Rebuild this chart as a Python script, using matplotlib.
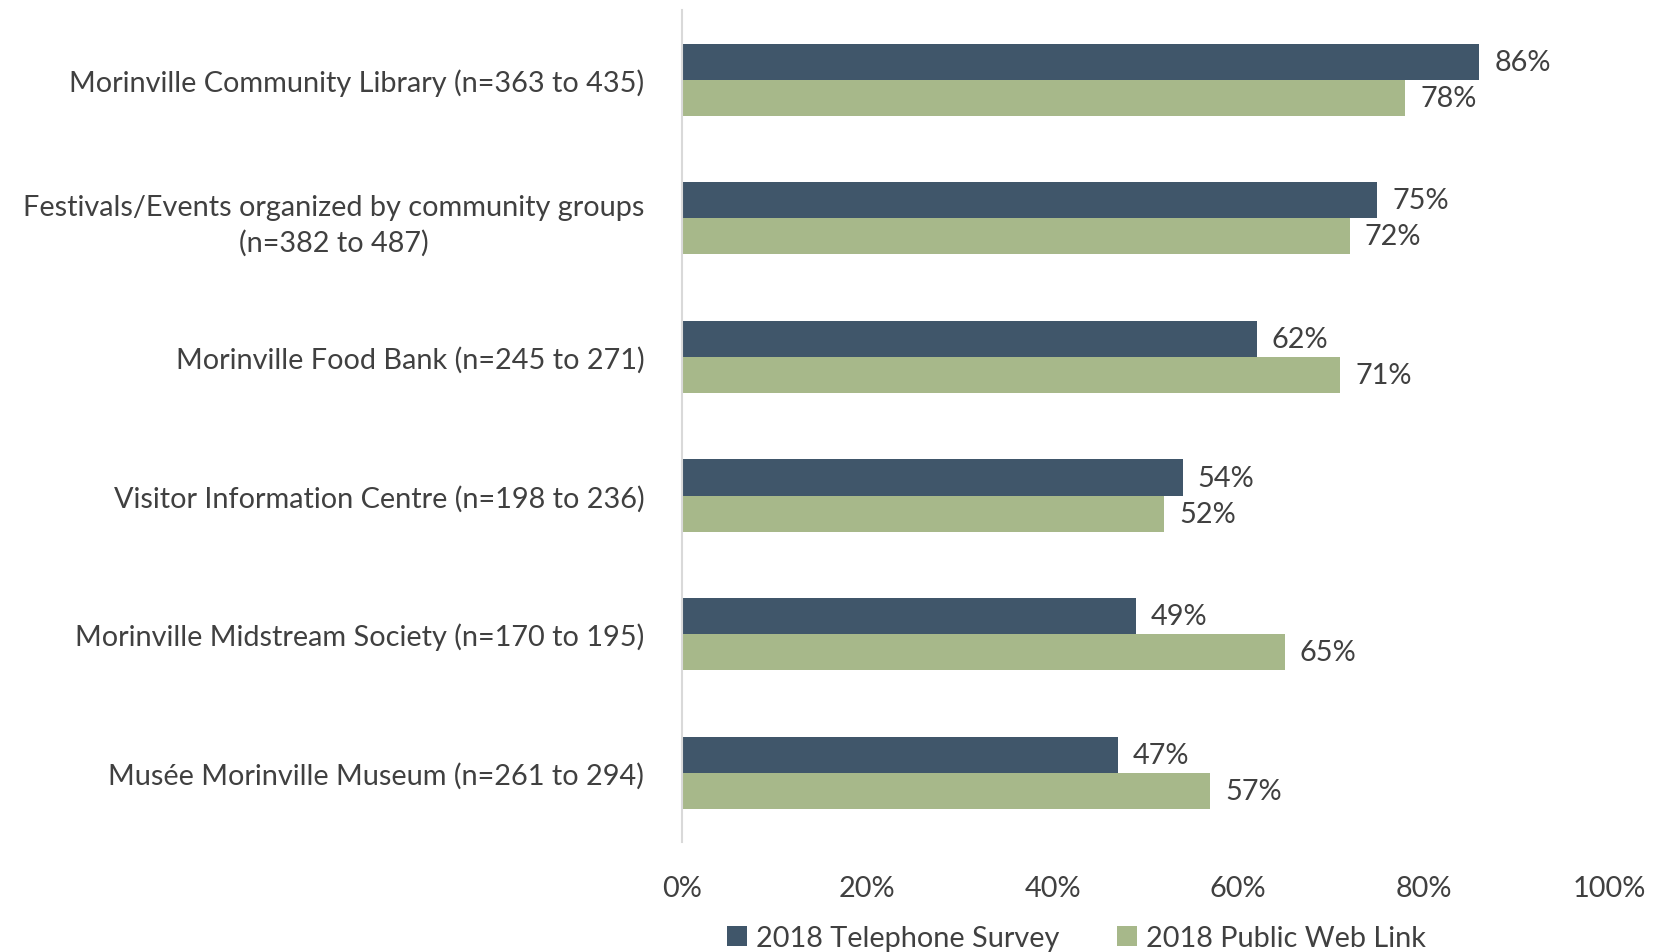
import matplotlib.pyplot as plt
import numpy as np

plt.rcParams['font.family'] = ['Lato', 'DejaVu Sans']

categories = ['Morinville Community Library (n=363 to 435)',
              'Festivals/Events organized by community groups\n(n=382 to 487)',
              'Morinville Food Bank (n=245 to 271)',
              'Visitor Information Centre (n=198 to 236)',
              'Morinville Midstream Society (n=170 to 195)',
              'Musée Morinville Museum (n=261 to 294)']
telephone = [86, 75, 62, 54, 49, 47]
weblink = [78, 72, 71, 52, 65, 57]
series_names = ['2018 Telephone Survey', '2018 Public Web Link']
xticks = [0, 20, 40, 60, 80, 100]

dark = '#40566a'
green = '#a7b88a'
txt = '#404040'
fs = 20.8

fig = plt.figure(figsize=(16.59, 9.53), dpi=100)
ax = fig.add_axes([0.411, 0.1154, 0.559, 0.8726])

y = np.arange(len(categories))
h = 0.26
b1 = ax.barh(y - h / 2, telephone, height=h, color=dark, label=series_names[0])
b2 = ax.barh(y + h / 2, weblink, height=h, color=green, label=series_names[1])

for bars, vals in [(b1, telephone), (b2, weblink)]:
    for bar, v in zip(bars, vals):
        ax.text(v + 1.6, bar.get_y() + bar.get_height() / 2, f'{v}%',
                va='center', ha='left', fontsize=fs, color=txt)

ax.set_xlim(0, 100)
ax.set_ylim(len(categories) - 0.5, -0.5)
ax.set_yticks(y)
ax.set_yticklabels(categories, fontsize=fs, color=txt, ha='right',
                   multialignment='center', linespacing=1.4)
ax.set_xticks(xticks)
ax.set_xticklabels([f'{t}%' for t in xticks], fontsize=fs, color=txt)
ax.tick_params(axis='both', length=0)
ax.tick_params(axis='y', pad=27)
ax.tick_params(axis='x', pad=24)

for s in ['top', 'right', 'bottom']:
    ax.spines[s].set_visible(False)
ax.spines['left'].set_color('#d9d9d9')
ax.spines['left'].set_linewidth(1.5)

fig.legend(handles=[b1, b2], loc='lower center', bbox_to_anchor=(0.649, -0.026),
           ncol=2, frameon=False, fontsize=fs, handlelength=0.7, handleheight=0.7,
           handletextpad=0.3, columnspacing=2.0, labelcolor=txt)

fig.savefig('out.png', dpi=100)
